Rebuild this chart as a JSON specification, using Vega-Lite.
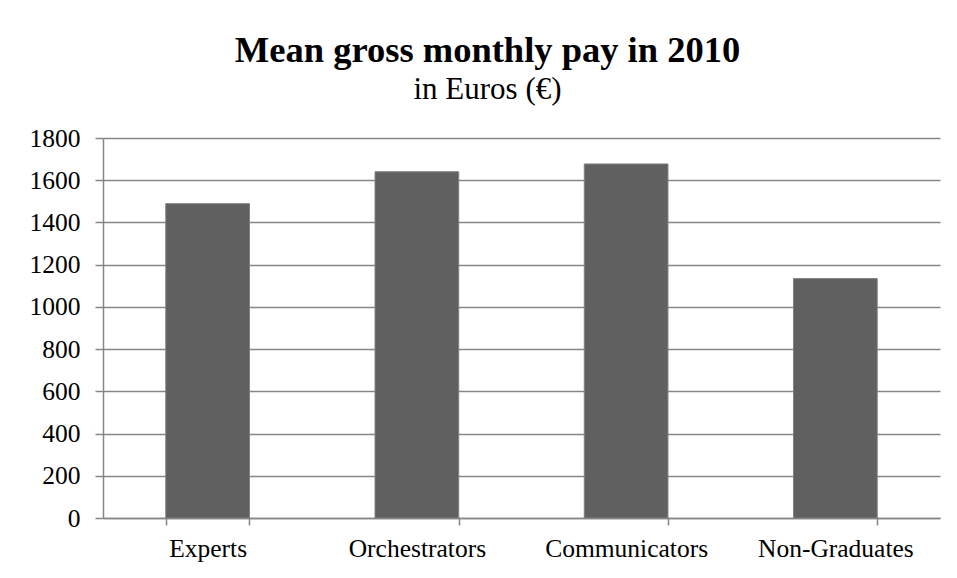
{
  "$schema": "https://vega.github.io/schema/vega-lite/v6.json",
  "width": 837,
  "height": 380,
  "autosize": {"type": "none"},
  "padding": {"left": 103, "top": 138, "right": 17, "bottom": 60},
  "background": "white",
  "title": {
    "text": "Mean gross monthly pay in 2010",
    "subtitle": "in Euros (€)",
    "font": "Liberation Serif",
    "fontSize": 36.5,
    "fontWeight": "bold",
    "color": "black",
    "subtitleFont": "Liberation Serif",
    "subtitleFontSize": 31,
    "subtitleColor": "black",
    "subtitlePadding": 6,
    "anchor": "middle",
    "frame": "group",
    "dx": -34,
    "offset": 21
  },
  "data": {
    "values": [
      {"category": "Experts", "pay": 1489},
      {"category": "Orchestrators", "pay": 1640},
      {"category": "Communicators", "pay": 1677},
      {"category": "Non-Graduates", "pay": 1134}
    ]
  },
  "mark": {"type": "bar", "color": "#606060", "stroke": "#808080", "strokeWidth": 1},
  "encoding": {
    "x": {
      "field": "category",
      "type": "nominal",
      "sort": null,
      "scale": {"paddingInner": 0.6, "paddingOuter": 0.3},
      "axis": {
        "title": null,
        "labelAngle": 0,
        "labelPadding": 11,
        "labelFont": "Liberation Serif",
        "labelFontSize": 25.5,
        "tickBand": "extent",
        "tickSize": 7,
        "grid": false
      }
    },
    "y": {
      "field": "pay",
      "type": "quantitative",
      "scale": {"domain": [0, 1800], "nice": false},
      "axis": {
        "title": null,
        "values": [0, 200, 400, 600, 800, 1000, 1200, 1400, 1600, 1800],
        "format": "d",
        "labelPadding": 15,
        "labelFont": "Liberation Serif",
        "labelFontSize": 25.5,
        "tickSize": 8,
        "grid": true,
        "gridColor": "#868686",
        "gridWidth": 1.5,
        "gridOpacity": 1
      }
    }
  },
  "config": {
    "view": {"stroke": null},
    "axis": {
      "labelColor": "black",
      "tickColor": "#868686",
      "tickWidth": 1.5,
      "domainColor": "#868686",
      "domainWidth": 1.5
    }
  }
}
